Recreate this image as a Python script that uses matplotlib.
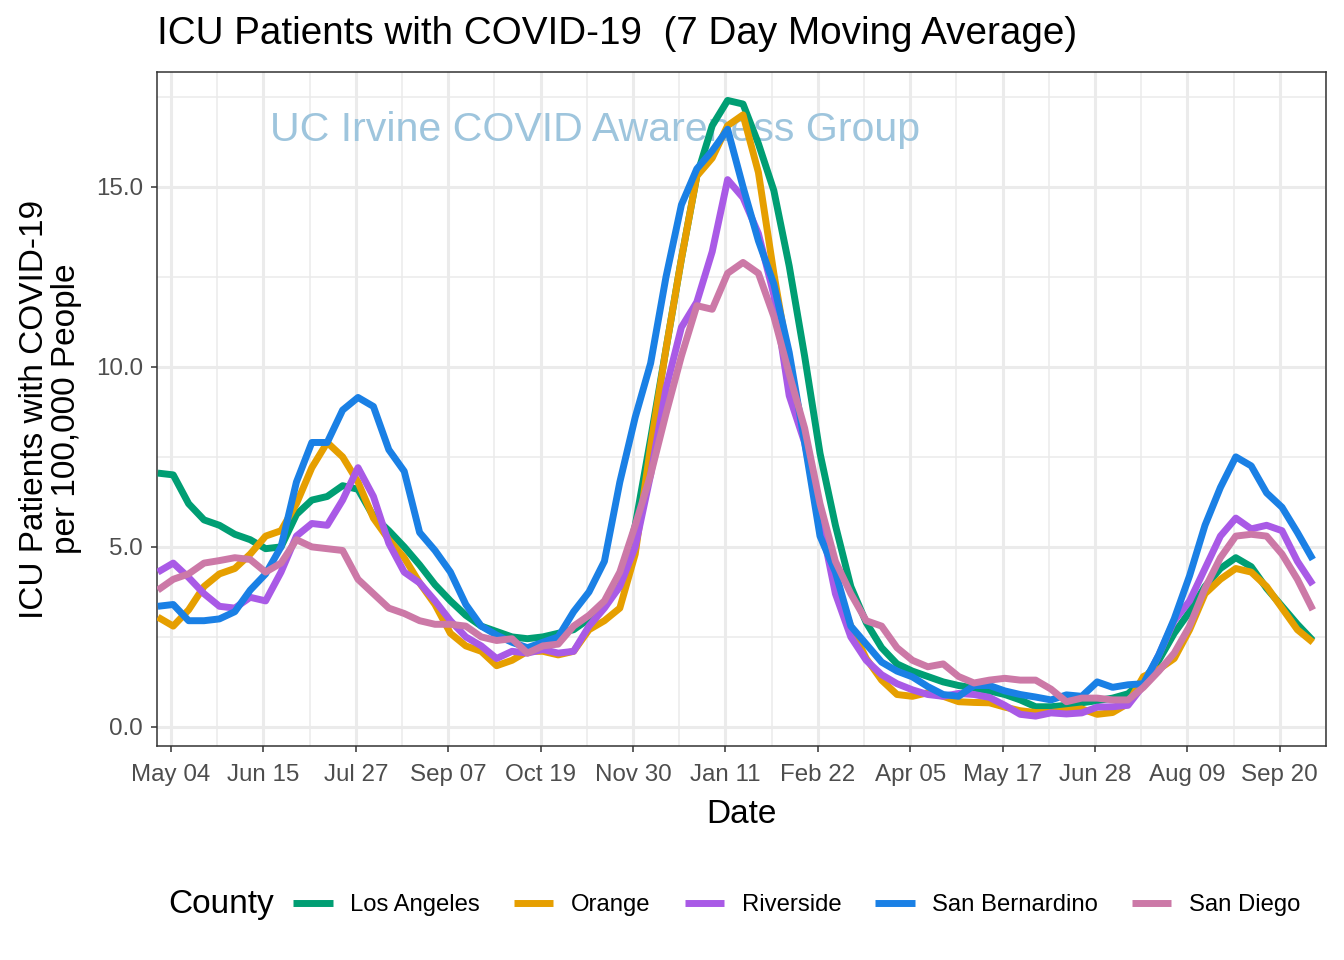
import numpy as np
import pandas as pd
import matplotlib
matplotlib.use("Agg")
import matplotlib.pyplot as plt
import matplotlib.dates as mdates

plt.rcParams['font.family'] = ['Liberation Sans', 'DejaVu Sans']

# weekly 7-day averages, ICU patients per 100k
dates = pd.date_range("2020-04-28", periods=76, freq="7D")

los_angeles = [7.05, 7.0, 6.2, 5.75, 5.6, 5.35, 5.2, 4.95, 5.0, 5.9,
               6.3, 6.4, 6.7, 6.6, 5.85, 5.45, 5.0, 4.5, 3.95, 3.5,
               3.1, 2.8, 2.65, 2.5, 2.45, 2.5, 2.6, 2.7, 3.0, 3.4,
               3.9, 5.6, 8.0, 10.5, 13.0, 15.3, 16.7, 17.4, 17.3, 16.2,
               14.9, 12.8, 10.3, 7.6, 5.6, 3.9, 2.9, 2.2, 1.75, 1.55,
               1.4, 1.25, 1.15, 1.08, 1.0, 0.9, 0.75, 0.56, 0.56, 0.6,
               0.67, 0.73, 0.8, 0.92, 1.3, 1.85, 2.6, 3.2, 3.9, 4.4,
               4.7, 4.45, 3.85, 3.35, 2.85, 2.4]
orange = [3.05, 2.8, 3.25, 3.9, 4.25, 4.4, 4.8, 5.3, 5.45, 6.2,
          7.2, 7.9, 7.5, 6.8, 5.8, 5.2, 4.7, 4.0, 3.4, 2.6,
          2.25, 2.1, 1.7, 1.85, 2.1, 2.1, 2.0, 2.1, 2.7, 2.95,
          3.3, 4.8, 7.8, 10.5, 13.0, 15.3, 15.8, 16.7, 17.0, 15.4,
          12.6, 10.1, 8.0, 5.8, 3.9, 2.8, 1.9, 1.3, 0.9, 0.85,
          0.95, 0.85, 0.7, 0.68, 0.67, 0.55, 0.45, 0.4, 0.4, 0.45,
          0.5, 0.35, 0.4, 0.65, 1.4, 1.6, 1.9, 2.7, 3.7, 4.1,
          4.4, 4.3, 3.9, 3.3, 2.7, 2.35]
riverside = [4.3, 4.55, 4.15, 3.7, 3.35, 3.3, 3.6, 3.5, 4.3, 5.3,
             5.65, 5.6, 6.3, 7.2, 6.4, 5.1, 4.3, 4.0, 3.5, 2.95,
             2.5, 2.25, 1.9, 2.1, 2.05, 2.15, 2.05, 2.1, 2.8, 3.3,
             3.9, 5.0, 7.0, 9.4, 11.1, 11.8, 13.2, 15.2, 14.7, 13.7,
             12.0, 9.2, 7.9, 5.8, 3.7, 2.5, 1.85, 1.45, 1.2, 1.03,
             0.9, 0.85, 0.93, 0.9, 0.82, 0.6, 0.35, 0.3, 0.39, 0.36,
             0.39, 0.55, 0.56, 0.6, 1.15, 2.0, 2.95, 3.5, 4.4, 5.3,
             5.8, 5.5, 5.6, 5.45, 4.6, 3.95]
san_bernardino = [3.35, 3.4, 2.95, 2.95, 3.0, 3.2, 3.8, 4.25, 5.0, 6.8,
                  7.9, 7.9, 8.8, 9.15, 8.9, 7.7, 7.1, 5.4, 4.9, 4.3,
                  3.4, 2.8, 2.55, 2.35, 2.2, 2.35, 2.5, 3.2, 3.75, 4.6,
                  6.8, 8.6, 10.1, 12.5, 14.5, 15.5, 16.0, 16.6, 15.0, 13.5,
                  12.3, 10.4, 7.9, 5.3, 4.3, 2.8, 2.3, 1.8, 1.55, 1.39,
                  1.12, 0.9, 0.85, 1.15, 1.15, 1.0, 0.9, 0.83, 0.75, 0.89,
                  0.85, 1.25, 1.1, 1.17, 1.2, 2.0, 3.0, 4.2, 5.6, 6.65,
                  7.5, 7.25, 6.5, 6.1, 5.4, 4.65]
san_diego = [3.8, 4.1, 4.25, 4.55, 4.62, 4.7, 4.65, 4.3, 4.55, 5.2,
             5.0, 4.95, 4.9, 4.1, 3.7, 3.3, 3.15, 2.95, 2.85, 2.85,
             2.8, 2.5, 2.4, 2.45, 2.05, 2.25, 2.3, 2.8, 3.1, 3.5,
             4.3, 5.6, 7.0, 8.7, 10.3, 11.7, 11.6, 12.6, 12.9, 12.6,
             11.4, 9.8, 8.3, 6.2, 4.6, 3.7, 2.95, 2.8, 2.2, 1.85,
             1.67, 1.75, 1.4, 1.22, 1.3, 1.35, 1.3, 1.3, 1.05, 0.7,
             0.8, 0.8, 0.75, 0.75, 1.1, 1.55, 2.05, 2.8, 3.85, 4.7,
             5.3, 5.35, 5.3, 4.8, 4.1, 3.25]

counties = ["Los Angeles", "Orange", "Riverside", "San Bernardino", "San Diego"]
series = [los_angeles, orange, riverside, san_bernardino, san_diego]
colors = ["#009E73", "#E69F00", "#A95AE6", "#1A80E5", "#CC79A7"]

fig = plt.figure(figsize=(13.44, 9.6), dpi=100)
ax = fig.add_axes([157 / 1344, 1 - 746 / 960, (1326 - 157) / 1344, (746 - 72) / 960])

for name, vals, col in zip(counties, series, colors):
    ax.plot(dates, vals, color=col, lw=5, label=name, solid_capstyle="butt",
            solid_joinstyle="round", zorder=3)

# axes ranges
ax.set_xlim(pd.Timestamp("2020-04-27 15:00"), pd.Timestamp("2021-10-11"))
ax.set_ylim(-0.53, 18.19)

major = pd.date_range("2020-05-04", periods=13, freq="42D")
minor = pd.date_range("2020-05-25", periods=13, freq="42D")
ax.set_xticks(major)
ax.set_xticks(minor, minor=True)
ax.xaxis.set_major_formatter(mdates.DateFormatter("%b %d"))
ax.set_yticks([0, 5, 10, 15])
ax.set_yticklabels(["0.0", "5.0", "10.0", "15.0"])
ax.set_yticks([2.5, 7.5, 12.5, 17.5], minor=True)

ax.grid(True, which="major", color="#EBEBEB", lw=2.2, zorder=0)
ax.grid(True, which="minor", color="#EBEBEB", lw=1.1, zorder=0)
ax.set_axisbelow(True)
for s in ax.spines.values():
    s.set_color("#333333")
    s.set_linewidth(1.1)
ax.tick_params(which="major", length=4, width=1.1, color="#333333",
               labelsize=17.4, labelcolor="#4D4D4D", pad=6)
ax.tick_params(axis="x", which="major", pad=9)
ax.tick_params(which="minor", length=0)

ax.set_xlabel("Date", fontsize=24, labelpad=9)
ax.set_ylabel("ICU Patients with COVID-19\nper 100,000 People", fontsize=24, labelpad=10,
              linespacing=1.05)
ax.set_title("ICU Patients with COVID-19  (7 Day Moving Average)", loc="left",
             fontsize=27.8, pad=20)

ax.text(270 / 1344, 1 - 130 / 960, "UC Irvine COVID Awareness Group",
        transform=fig.transFigure, fontsize=29.6, color="#9EC5DD",
        va="center", ha="left", zorder=1)

fig.text(168 / 1344, 1 - 905 / 960, "County", fontsize=24, va="center", ha="left")
leg = fig.legend(loc="center", bbox_to_anchor=(797 / 1344, 1 - 905 / 960), ncol=5,
                 frameon=False, fontsize=17.2, handlelength=1.64, handletextpad=0.74,
                 columnspacing=1.43)
for h in leg.get_lines():
    h.set_linewidth(5)

fig.savefig("out.png", dpi=100)
